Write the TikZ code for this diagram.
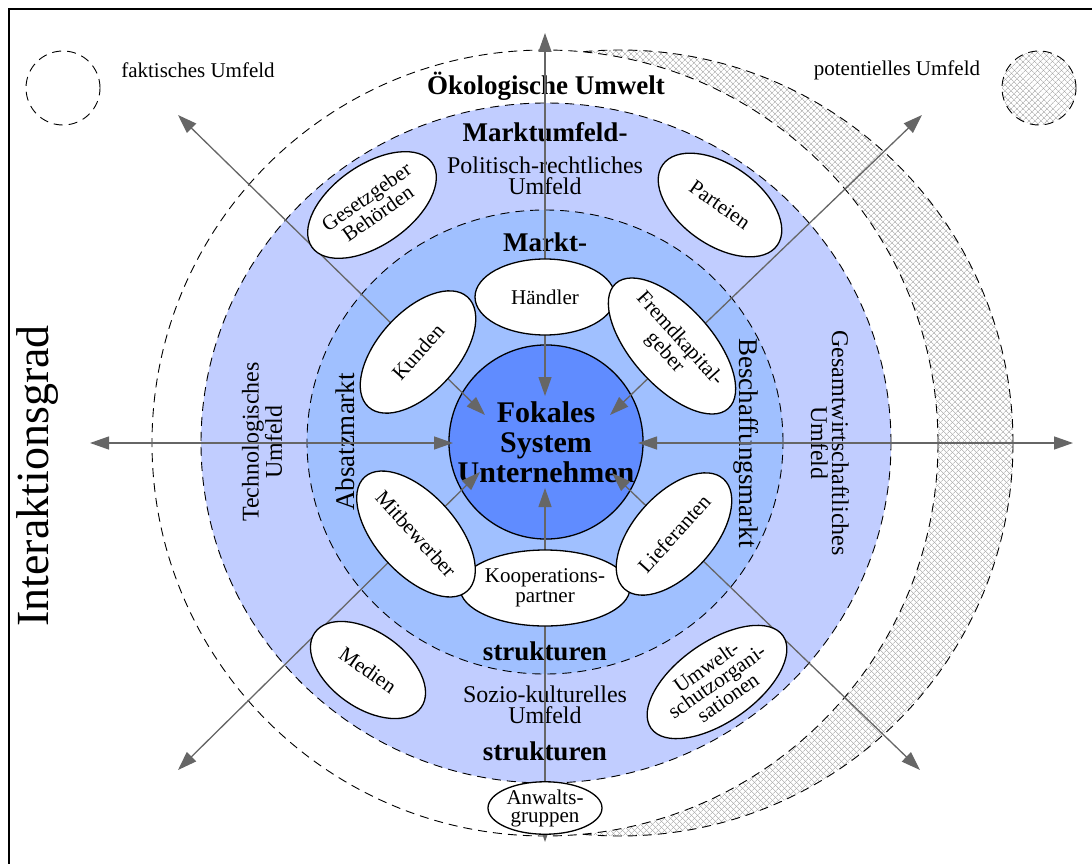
\documentclass[tikz,border=0pt]{standalone}
\usepackage{fontspec}
\setmainfont{Liberation Serif}
\usetikzlibrary{arrows.meta,shapes.geometric,patterns.meta}
\definecolor{fokal}{RGB}{96,140,255}
\definecolor{markt}{RGB}{160,192,255}
\definecolor{umfeld}{RGB}{193,205,255}

\begin{document}
\begin{tikzpicture}[x=1pt,y=-1pt,>={Triangle[length=19pt,width=13pt]},
                    line width=1pt]
  \tikzstyle{ring}=[dash pattern=on 9pt off 6pt, line width=0.9pt]
  \tikzstyle{hatch}=[pattern={Lines[angle=45,distance=4pt,line width=0.5pt]},
                     pattern color=black!38,
                     postaction={pattern={Lines[angle=-45,distance=4pt,line width=0.5pt]},
                                 pattern color=black!38}]
  \tikzstyle{akteur}=[ellipse, draw, fill=white, line width=1.3pt, inner sep=0pt,
                      minimum width=140pt, minimum height=76pt, align=center,
                      font=\fontsize{21}{20}\selectfont]
  \tikzstyle{schraeg}=[akteur, minimum width=148pt, minimum height=80pt]
  \tikzstyle{umwelt}=[akteur, minimum width=140pt, minimum height=80pt]
  \tikzstyle{titel}=[font=\bfseries\fontsize{27}{27}\selectfont]
  \tikzstyle{feld}=[align=center, font=\fontsize{24}{21}\selectfont]
  \tikzstyle{seite}=[font=\fontsize{27}{27}\selectfont]
  \tikzstyle{strahl}=[<->, draw=black!60, fill=black!60, line width=1.3pt]

  \clip (0,0) rectangle (1092,864);
  \draw[line width=2.5pt] (9,9) rectangle (1110,880);

  \path[hatch] (620,443) circle (393pt);
  \draw[ring] (620,443) circle (393pt);
  \filldraw[ring, fill=white] (545,443) circle (393pt);
  \filldraw[ring, fill=umfeld] (546,443) ellipse (345pt and 340pt);
  \filldraw[ring, fill=markt] (545,442) ellipse (238pt and 232pt);

  \draw[ring] (63,88) circle (37pt);
  \path[hatch] (1039,88) circle (37pt);
  \draw[ring] (1039,88) circle (37pt);
  \node[font=\fontsize{21}{21}\selectfont] (FAKTISCH) at (198,70) {faktisches Umfeld};
  \node[font=\fontsize{21}{21}\selectfont] (POTENTIELL) at (897,70) {potentielles Umfeld};

  \node[titel] (OEKO)   at (546,86)  {Ökologische Umwelt};
  \node[titel] (MUFELD) at (545,132) {Marktumfeld-};
  \node[feld]  (POLIT)  at (545,176) {Politisch-rechtliches\\Umfeld};
  \node[titel] (MARKT)  at (545,242) {Markt-};
  \node[titel] (STRUKA) at (545,651) {strukturen};
  \node[feld]  (SOZIO)  at (545,705) {Sozio-kulturelles\\Umfeld};
  \node[titel] (STRUKB) at (545,751) {strukturen};
  \node[feld, rotate=90]  (TECHNO) at (262,442) {Technologisches\\Umfeld};
  \node[feld, rotate=-90] (GESAMT) at (830,443) {Gesamtwirtschaftliches\\Umfeld};
  \node[seite, rotate=90]  (ABSATZ) at (345,442) {Absatzmarkt};
  \node[seite, rotate=-90] (BESCH)  at (746,443) {Beschaffungsmarkt};
  \node[rotate=90, font=\fontsize{46}{46}\selectfont] (GRAD) at (38,476) {Interaktionsgrad};

  \node[circle, draw, fill=fokal, line width=1.3pt, minimum size=192pt, inner sep=0pt,
        align=center, font=\bfseries\fontsize{30}{30}\selectfont]
        (UNTERNEHMEN) at (546,442) {Fokales\\System\\Unternehmen};

  \coordinate (NO)   at (545,33);   \coordinate (NOIN) at (545,396);
  \coordinate (SU)   at (545,842);  \coordinate (SUIN) at (545,488);
  \coordinate (WE)   at (90,443);   \coordinate (WEIN) at (453,443);
  \coordinate (OS)   at (1073,443); \coordinate (OSIN) at (638,443);
  \coordinate (NW)   at (178,115);  \coordinate (NWIN) at (485,415);
  \coordinate (NE)   at (922,115);  \coordinate (NEIN) at (610,415);
  \coordinate (SW)   at (178,770);  \coordinate (SWIN) at (480,472);
  \coordinate (SE)   at (920,770);  \coordinate (SEIN) at (612,473);

  \draw[strahl] (NOIN) -- (NO);
  \draw[strahl] (SUIN) -- (SU);
  \draw[strahl] (WEIN) -- (WE);
  \draw[strahl] (OSIN) -- (OS);
  \draw[strahl] (NWIN) -- (NW);
  \draw[strahl] (NEIN) -- (NE);
  \draw[strahl] (SWIN) -- (SW);
  \draw[strahl] (SEIN) -- (SE);

  \node[akteur]              (HAENDLER)     at (545,297) {Händler};
  \node[akteur]              (KOOPERATION)  at (545,588) {Kooperations-\\partner};
  \node[schraeg, rotate=48]  (KUNDEN)       at (418,352) {Kunden};
  \node[schraeg, rotate=-48] (FREMDKAPITAL) at (672,346) {Fremdkapital-\\geber};
  \node[schraeg, rotate=-48] (MITBEWERBER)  at (416,534) {Mitbewerber};
  \node[schraeg, rotate=48]  (LIEFERANTEN)  at (674,534) {Lieferanten};
  \node[umwelt, rotate=35]   (GESETZGEBER)  at (372,205) {Gesetzgeber\\Behörden};
  \node[umwelt, rotate=-35]  (PARTEIEN)     at (720,205) {Parteien};
  \node[umwelt, rotate=-35, minimum width=130pt, minimum height=76pt]
                             (MEDIEN)       at (368,670) {Medien};
  \node[umwelt, rotate=35, font=\fontsize{21}{18}\selectfont]
                             (UMWELTSCHUTZ) at (717,682) {Umwelt-\\schutzorgani-\\sationen};
  \node[akteur, minimum width=114pt, minimum height=44pt, font=\fontsize{21}{18}\selectfont]
                             (ANWALT)       at (545,808) {Anwalts-\\gruppen};
\end{tikzpicture}
\end{document}
